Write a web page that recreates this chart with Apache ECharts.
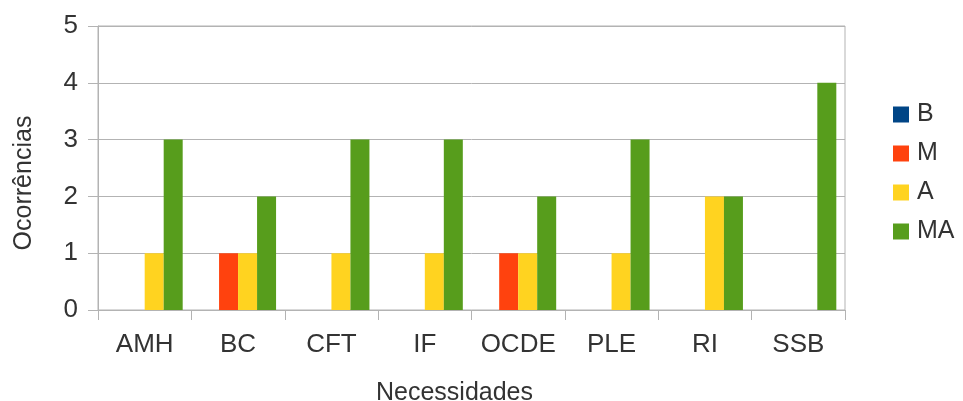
<!DOCTYPE html>
<html>
<head>
<meta charset="utf-8">
<script src="https://cdn.jsdelivr.net/npm/echarts@6/dist/echarts.min.js"></script>
<style>
html,body{margin:0;padding:0;background:#fff;}
#c{width:963px;height:401px;}
</style>
</head>
<body>
<div id="c"></div>
<script>
const categories = ['AMH','BC','CFT','IF','OCDE','PLE','RI','SSB'];
const seriesNames = ['B','M','A','MA'];
const valuesB  = [0,0,0,0,0,0,0,0];
const valuesM  = [0,1,0,0,1,0,0,0];
const valuesA  = [1,1,1,1,1,1,2,0];
const valuesMA = [3,2,3,3,2,3,2,4];
const yTicks = [0,1,2,3,4,5];
const colors = ['#004586','#ff420e','#ffd320','#579d1c'];

const font = 'Liberation Sans';
const txt = '#333333';
const gray = '#b3b3b3';
const allValues = [valuesB, valuesM, valuesA, valuesMA];

const chart = echarts.init(document.getElementById('c'), null, {renderer:'canvas'});
chart.setOption({
  animation:false,
  backgroundColor:'#fff',
  textStyle:{fontFamily:font},
  grid:{left:98,right:118,top:26,bottom:91,containLabel:false,outerBoundsMode:'none',
        show:true,borderColor:gray,borderWidth:1,backgroundColor:'transparent'},
  legend:{
    orient:'vertical', left:888, top:97, itemWidth:16, itemHeight:16, itemGap:14,
    icon:'rect',
    textStyle:{fontFamily:font,fontSize:25,color:txt,lineHeight:24,padding:[0,0,0,3]},
    data:seriesNames
  },
  xAxis:{
    type:'category', data:categories,
    name:'Necessidades', nameLocation:'middle', nameGap:71,
    nameTextStyle:{fontFamily:font,fontSize:25,color:txt,padding:[0,34,0,0]},
    axisLine:{lineStyle:{color:gray,width:1}},
    axisTick:{show:true,length:10,lineStyle:{color:gray}},
    axisLabel:{fontFamily:font,fontSize:26,color:txt,margin:22,interval:0}
  },
  yAxis:{
    type:'value', min:yTicks[0], max:yTicks[yTicks.length-1], interval:1,
    name:'Ocorrências', nameLocation:'middle', nameGap:61,
    nameTextStyle:{fontFamily:font,fontSize:25,color:txt,padding:[0,30,0,0]},
    axisLine:{show:true,lineStyle:{color:gray,width:1}},
    axisTick:{show:true,length:10,lineStyle:{color:gray}},
    axisLabel:{fontFamily:font,fontSize:26,color:txt,margin:20},
    splitLine:{show:true,lineStyle:{color:gray,width:1}}
  },
  series: seriesNames.map((n,i)=>({
    name:n, type:'bar', data:allValues[i],
    itemStyle:{color:colors[i]},
    barGap:'0%', barCategoryGap:'18.6%'
  }))
});
</script>
</body>
</html>
